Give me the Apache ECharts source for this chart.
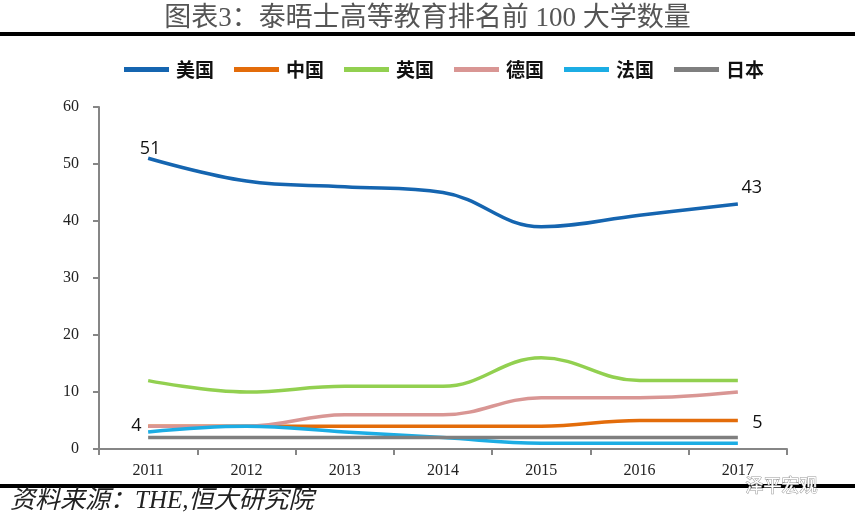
<!DOCTYPE html>
<html><head><meta charset="utf-8">
<script src="https://cdn.jsdelivr.net/npm/echarts@6/dist/echarts.min.js"></script>
<style>html,body{margin:0;padding:0;background:#fff}#c{width:855px;height:522px}</style>
</head><body><div id="c"></div>
<script>
const categories = ['2011','2012','2013','2014','2015','2016','2017'];
const usa = [51, 47, 46, 45, 39, 41, 43];
const china = [4, 4, 4, 4, 4, 5, 5];
const uk = [12, 10, 11, 11, 16, 12, 12];
const germany = [4, 4, 6, 6, 9, 9, 10];
const france = [3, 4, 3, 2, 1, 1, 1];
const japan = [2, 2, 2, 2, 2, 2, 2];
const yTicks = [0, 10, 20, 30, 40, 50, 60];
const names = ['美国', '中国', '英国', '德国', '法国', '日本'];
const colors = ['#1565b0', '#e36c0a', '#92d050', '#d99694', '#1cade4', '#7f7f7f'];

const chart = echarts.init(document.getElementById('c'));
const labelFont = {fontFamily: 'Open Sans, Noto Sans, sans-serif', fontSize: 18, color: '#111'};
function mk(idx, data, labels) {
  const color = colors[idx];
  return {
    name: names[idx], type: 'line', data: data.map((v, i) => {
      const o = {value: v};
      if (labels && labels[i]) o.label = Object.assign({show: true}, labelFont, labels[i]);
      return o;
    }),
    smooth: 0.4, symbol: 'circle', symbolSize: 1, showSymbol: true,
    lineStyle: {width: 3.5, color}, itemStyle: {color: 'rgba(0,0,0,0)'},
    label: {show: false}, emphasis: {disabled: true}
  };
}
chart.setOption({
  animation: false,
  legend: {
    top: 55, left: 119, itemWidth: 45, itemHeight: 5, itemGap: 20,
    data: names.map((n, i) => ({name: n, itemStyle: {color: colors[i]}})),
    textStyle: {fontFamily: 'Noto Sans CJK SC', fontWeight: 'bold', fontSize: 19, color: '#111', padding: [0, 0, 0, 2]},
    icon: 'rect'
  },
  grid: {left: 99, right: 68, top: 107, bottom: 73},
  xAxis: {
    type: 'category', data: categories, boundaryGap: true,
    axisLine: {lineStyle: {color: '#868686', width: 2}},
    axisTick: {show: true, length: 6, lineStyle: {color: '#868686', width: 2}},
    axisLabel: {fontFamily: 'Liberation Serif', fontSize: 16, color: '#222', margin: 14}
  },
  yAxis: {
    type: 'value', min: yTicks[0], max: yTicks[yTicks.length - 1], interval: 10,
    axisLine: {show: true, lineStyle: {color: '#868686', width: 2}},
    axisTick: {show: true, length: 6, lineStyle: {color: '#868686', width: 2}},
    splitLine: {show: false},
    axisLabel: {fontFamily: 'Liberation Serif', fontSize: 16, color: '#222', margin: 20}
  },
  series: [
    mk(0, usa, {0: {position: 'top', offset: [2, 5]}, 6: {position: 'top', offset: [14, -2]}}),
    mk(1, china, {6: {position: 'right', distance: 14, offset: [0, 2]}}),
    mk(2, uk),
    mk(3, germany, {0: {position: 'left', distance: 6}}),
    mk(4, france),
    mk(5, japan)
  ],
  graphic: [
    {type: 'text', left: 'center', top: 5, style: {text: '图表3：泰晤士高等教育排名前 100 大学数量', font: '27px "Liberation Serif", "Noto Sans CJK SC"', fill: '#555'}},
    {type: 'rect', shape: {x: 0, y: 32, width: 855, height: 4}, style: {fill: '#000'}},
    {type: 'rect', shape: {x: 0, y: 484, width: 855, height: 4}, style: {fill: '#000'}},
    {type: 'text', left: 10, top: 489, style: {text: '资料来源：THE,恒大研究院', font: 'italic 25px "Liberation Serif", "Noto Sans CJK SC"', fill: '#222'}},
    {type: 'text', left: 745, top: 476, style: {text: '泽平宏观', font: '18px "Noto Sans CJK SC"', fill: '#fff', stroke: '#999', lineWidth: 1}}
  ]
});
</script></body></html>
